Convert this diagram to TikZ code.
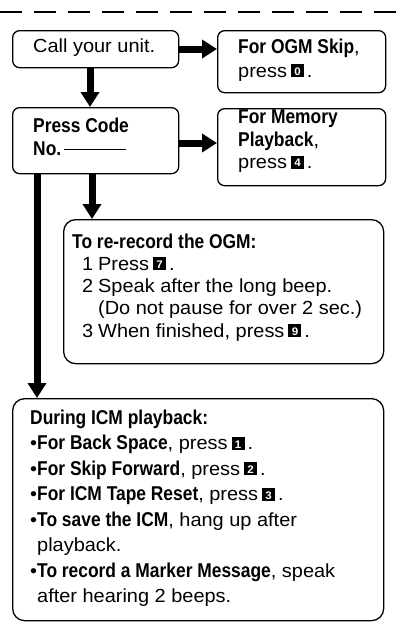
\documentclass[tikz,border=0pt]{standalone}
\usepackage{fontspec}
\setmainfont{Liberation Sans}[FakeStretch=1.05]
\newfontfamily\bfcn{Liberation Sans}[FakeStretch=0.87]
\usetikzlibrary{arrows.meta}
\newcommand\hb[1]{{\bfcn\bfseries\fontsize{20}{20}\selectfont #1}}
\newcommand\keyk[1]{\kern4pt{\setlength{\fboxsep}{0pt}\colorbox{black}{\makebox[13pt]{\rule{0pt}{13pt}\raisebox{1.8pt}{\textcolor{white}{\fontsize{11}{11}\selectfont\bfseries #1}}}}}\kern3pt}
\newcommand\bul{\textbullet}
\newcommand\ind{\phantom{\textbullet}}
\newcommand\numcol[1]{\makebox[26pt][l]{\kern10pt #1}}
\begin{document}
\begin{tikzpicture}[x=1pt,y=-1pt,
  boxwh/.style 2 args={draw, line width=1.3pt, rounded corners=7pt, minimum width=#1, minimum height=#2, inner sep=0pt, anchor=north west},
  bigbox/.style={rounded corners=12pt},
  arr/.style={line width=7pt, -{Triangle[width=18pt,length=15pt]}},
  txt/.style={inner sep=0pt, anchor=north west, align=left, font=\fontsize{19}{23}\selectfont},
  dashline/.style={line width=1.2pt, dash pattern=on 22pt off 12pt, dash phase=0pt}]
\useasboundingbox (0,0) rectangle (403,622);
% top dashed rule
\coordinate (dl) at (0,12);
\coordinate (dr) at (403,12);
\draw[dashline] (dl) -- (dr);
% boxes
\node[boxwh={166pt}{37pt}] (A) at (12,30) {};
\node[boxwh={168pt}{62pt}] (O) at (217,30) {};
\node[boxwh={166pt}{66pt}] (B) at (12,107) {};
\node[boxwh={168pt}{77pt}] (M) at (217,108) {};
\node[boxwh={320pt}{144pt}, bigbox] (C) at (63,219) {};
\node[boxwh={371pt}{222pt}, bigbox] (D) at (12,398) {};
% texts
\node[txt] (tA) at (33,38.3) {Call your unit.};
\node[txt, font=\fontsize{19}{24}\selectfont] (tO) at (238,38.6) {\hb{For OGM Skip}, \\ press\keyk{0}.};
\node[txt] (tB) at (33,117.6) {\hb{Press Code}\\ \hb{No.}\kern3pt\rule[5pt]{62pt}{1.3pt}};
\node[txt, font=\fontsize{19}{22.5}\selectfont] (tM) at (238,109.6) {\hb{For Memory}\\ \hb{Playback},\\ press\keyk{4}.};
\node[txt, font=\fontsize{19}{22.2}\selectfont] (tC) at (72,233.6) {\hb{To re-record the OGM:}\\
  \numcol{1}Press\keyk{7}.\\
  \numcol{2}Speak after the long beep.\\
  \numcol{}(Do not pause for over 2 sec.)\\
  \numcol{3}When finished, press\keyk{9}.};
\node[txt, font=\fontsize{19}{25.5}\selectfont] (tD) at (30,409.6) {\hb{During ICM playback:}\\
  \bul\hb{For Back Space}, press\keyk{1}.\\
  \bul\hb{For Skip Forward}, press\keyk{2}.\\
  \bul\hb{For ICM Tape Reset}, press\keyk{3}.\\
  \bul\hb{To save the ICM}, hang up after\\
  \ind playback.\\
  \bul\hb{To record a Marker Message}, speak\\
  \ind after hearing 2 beeps.};
% connectors
\coordinate (ab) at (90,0);
\coordinate (bc) at (92,0);
\coordinate (bd) at (37,0);
\coordinate (ao) at (0,49);
\coordinate (bm) at (0,143);
\draw[arr] (A.south -| ab) -- (B.north -| ab);
\draw[arr] (A.east |- ao) -- (O.west |- ao);
\draw[arr] (B.east |- bm) -- (M.west |- bm);
\draw[arr] (B.south -| bc) -- (C.north -| bc);
\draw[arr] (B.south -| bd) -- (D.north -| bd);
\end{tikzpicture}
\end{document}
